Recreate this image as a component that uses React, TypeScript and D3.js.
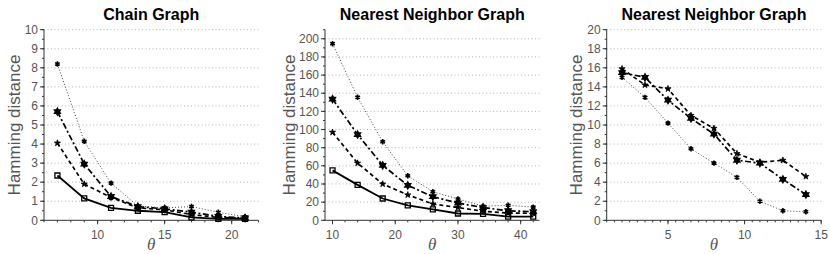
import React, { useEffect, useRef } from 'react';
import * as d3 from 'd3';

// values
const chainTheta = [7, 9, 11, 13, 15, 17, 19, 21];
const chainA = [2.35, 1.15, 0.65, 0.5, 0.43, 0.15, 0.08, 0.08];
const chainB = [4.05, 1.9, 1.2, 0.65, 0.55, 0.3, 0.15, 0.1];
const chainC = [5.7, 2.95, 1.25, 0.72, 0.6, 0.43, 0.2, 0.12];
const chainD = [8.2, 4.15, 1.95, 0.75, 0.65, 0.72, 0.42, 0.19];

const nnTheta = [10, 14, 18, 22, 26, 30, 34, 38, 42];
const nnA = [55, 39, 24, 16.5, 12, 7.5, 7, 4, 4];
const nnB = [97, 63, 40, 28, 18, 14, 10, 8, 7.7];
const nnC = [133.5, 94.5, 60.5, 38.5, 26, 19, 14, 10.5, 9.5];
const nnD = [194.5, 135.5, 86.5, 49, 31.5, 23.5, 15.5, 16.5, 14.5];

const nn2Theta = [2, 3.5, 5, 6.5, 8, 9.5, 11, 12.5, 14];
const nn2B = [15.9, 14.2, 13.8, 11.0, 9.65, 7.0, 6.1, 6.3, 4.6];
const nn2C = [15.5, 15.0, 12.6, 10.7, 9.05, 6.3, 6.0, 4.3, 2.7];
const nn2D = [15.0, 12.9, 10.2, 7.5, 6.0, 4.5, 2.0, 1.0, 0.9];

const chainXTicks = [10, 15, 20];
const chainYTicks = [0, 1, 2, 3, 4, 5, 6, 7, 8, 9, 10];
const nnXTicks = [10, 20, 30, 40];
const nnYTicks = [0, 20, 40, 60, 80, 100, 120, 140, 160, 180, 200];
const nn2XTicks = [5, 10, 15];
const nn2YTicks = [0, 2, 4, 6, 8, 10, 12, 14, 16, 18, 20];

const panels = [
  {
    title: 'Chain Graph', left: 44, labelGap: 24,
    xDomain: [6, 22], yDomain: [0, 10],
    xTicks: chainXTicks, xMinor: d3.range(6, 22.01, 1),
    yTicks: chainYTicks, yMinor: d3.range(0, 10.01, 0.5),
    theta: chainTheta,
    series: [{ v: chainA, s: 'A' }, { v: chainB, s: 'B' }, { v: chainC, s: 'C' }, { v: chainD, s: 'D' }],
  },
  {
    title: 'Nearest Neighbor Graph', left: 325, labelGap: 30,
    xDomain: [8.8, 43], yDomain: [0, 210],
    xTicks: nnXTicks, xMinor: d3.range(10, 42.01, 2),
    yTicks: nnYTicks, yMinor: d3.range(0, 210.01, 10),
    theta: nnTheta,
    series: [{ v: nnA, s: 'A' }, { v: nnB, s: 'B' }, { v: nnC, s: 'C' }, { v: nnD, s: 'D' }],
  },
  {
    title: 'Nearest Neighbor Graph', left: 606.7, labelGap: 25,
    xDomain: [1, 15], yDomain: [0, 20],
    xTicks: nn2XTicks, xMinor: d3.range(1, 15.01, 0.5),
    yTicks: nn2YTicks, yMinor: d3.range(0, 20.01, 1),
    theta: nn2Theta,
    series: [{ v: nn2B, s: 'B' }, { v: nn2C, s: 'C' }, { v: nn2D, s: 'D' }],
  },
];

const styles = {
  A: { dash: null, width: 1.8 },
  B: { dash: '4,3', width: 1.7 },
  C: { dash: '6,2.5,2,2.5', width: 1.7 },
  D: { dash: '1,2', width: 1 },
};

const hexagram = (r) => {
  const pts = d3.range(12).map(i => [i * Math.PI / 6, i % 2 === 0 ? r : r / Math.sqrt(3)]);
  return d3.lineRadial().curve(d3.curveLinearClosed)(pts);
};

const App = () => {
  const ref = useRef();

  useEffect(() => {
    const root = d3.select(ref.current);
    root.selectAll('*').remove();
    const svg = root.append('svg').attr('width', 830).attr('height', 254)
      .style('font-family', 'Liberation Sans, Arial, sans-serif');

    const top = 29.7, bottom = 220.3, w = 214.5;

    panels.forEach(p => {
      const x = d3.scaleLinear().domain(p.xDomain).range([p.left, p.left + w]);
      const y = d3.scaleLinear().domain(p.yDomain).range([bottom, top]);
      const g = svg.append('g');

      // grid
      g.selectAll('.grid').data(p.yTicks.filter(t => t > 0)).enter().append('line')
        .attr('x1', p.left).attr('x2', p.left + w)
        .attr('y1', d => y(d)).attr('y2', d => y(d))
        .attr('stroke', '#b5b5b5').attr('stroke-dasharray', '1,2.5');

      // axes
      g.append('line').attr('x1', p.left).attr('x2', p.left).attr('y1', top).attr('y2', bottom)
        .attr('stroke', '#333');
      g.append('line').attr('x1', p.left).attr('x2', p.left + w).attr('y1', bottom).attr('y2', bottom)
        .attr('stroke', '#333');

      g.selectAll('.ymin').data(p.yMinor).enter().append('line')
        .attr('x1', p.left - 2).attr('x2', p.left).attr('y1', d => y(d)).attr('y2', d => y(d))
        .attr('stroke', '#333');
      g.selectAll('.ymaj').data(p.yTicks).enter().append('line')
        .attr('x1', p.left - 4).attr('x2', p.left).attr('y1', d => y(d)).attr('y2', d => y(d))
        .attr('stroke', '#333');
      g.selectAll('.xmin').data(p.xMinor).enter().append('line')
        .attr('x1', d => x(d)).attr('x2', d => x(d)).attr('y1', bottom).attr('y2', bottom + 2)
        .attr('stroke', '#333');
      g.selectAll('.xmaj').data(p.xTicks).enter().append('line')
        .attr('x1', d => x(d)).attr('x2', d => x(d)).attr('y1', bottom).attr('y2', bottom + 4)
        .attr('stroke', '#333');

      g.selectAll('.ylab').data(p.yTicks).enter().append('text')
        .attr('x', p.left - 6).attr('y', d => y(d)).attr('dy', '0.35em')
        .attr('text-anchor', 'end').attr('font-size', 12).attr('fill', '#555')
        .text(d => d);
      g.selectAll('.xlab').data(p.xTicks).enter().append('text')
        .attr('x', d => x(d)).attr('y', 238.5)
        .attr('text-anchor', 'middle').attr('font-size', 12).attr('fill', '#555')
        .text(d => d);

      g.append('text').attr('x', p.left + w / 2).attr('y', 20)
        .attr('text-anchor', 'middle').attr('font-size', 16).attr('font-weight', 'bold')
        .text(p.title);
      g.append('text')
        .attr('transform', `translate(${p.left - p.labelGap},${(top + bottom) / 2}) rotate(-90)`)
        .attr('text-anchor', 'middle').attr('font-size', 17).attr('fill', '#555')
        .text('Hamming distance');
      g.append('text').attr('x', p.left + w / 2).attr('y', 250)
        .attr('text-anchor', 'middle').attr('font-size', 17).attr('font-style', 'italic')
        .attr('font-family', 'Liberation Serif, serif').attr('fill', '#555')
        .text('θ');

      const line = d3.line().x(d => x(d[0])).y(d => y(d[1]));
      p.series.forEach(sr => {
        const pts = p.theta.map((t, i) => [t, sr.v[i]]);
        const st = styles[sr.s];
        g.append('path').attr('d', line(pts)).attr('fill', 'none')
          .attr('stroke', sr.s === 'D' ? '#444' : '#000')
          .attr('stroke-width', st.width)
          .attr('stroke-dasharray', st.dash);

        const m = g.selectAll(null).data(pts).enter().append('path')
          .attr('transform', d => `translate(${x(d[0])},${y(d[1])})`);
        if (sr.s === 'A') {
          m.attr('d', d3.symbol(d3.symbolSquare, 25)()).attr('fill', 'none')
            .attr('stroke', '#000').attr('stroke-width', 1.3);
        } else if (sr.s === 'B') {
          m.attr('d', d3.symbol(d3.symbolStar, 12)()).attr('fill', '#000')
            .attr('stroke', '#000').attr('stroke-width', 0.8);
        } else if (sr.s === 'C') {
          m.attr('d', hexagram(4.8)).attr('fill', '#000');
        } else {
          m.attr('d', d3.symbol(d3.symbolAsterisk, 20)()).attr('fill', 'none')
            .attr('stroke', '#000').attr('stroke-width', 1.6);
        }
      });
    });
  }, []);

  return <div ref={ref} style={{ position: 'absolute', left: 0, top: 0 }}></div>;
};

export default App;
